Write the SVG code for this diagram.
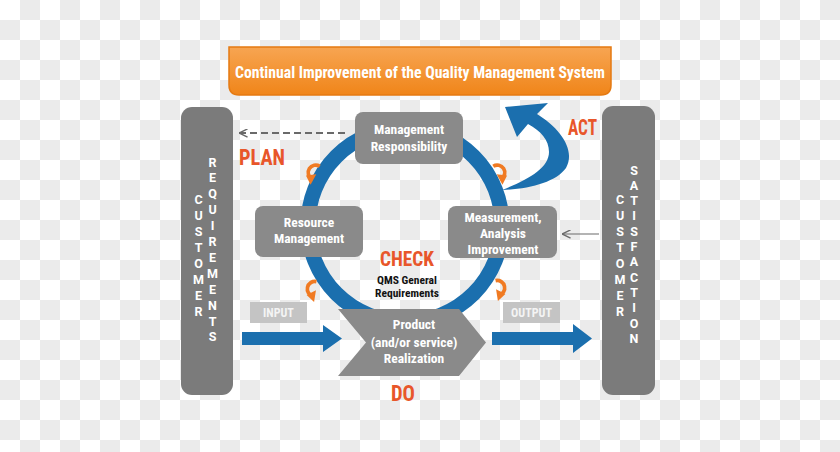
<svg xmlns="http://www.w3.org/2000/svg" width="840" height="452" viewBox="0 0 840 452">
<defs>
<pattern id="chk" width="40" height="40" patternUnits="userSpaceOnUse">
<rect width="40" height="40" fill="#ffffff"/>
<rect x="20" y="0" width="20" height="20" fill="#ebebeb"/>
<rect x="0" y="20" width="20" height="20" fill="#ebebeb"/>
</pattern>
<linearGradient id="og" x1="0" y1="0" x2="0" y2="1">
<stop offset="0" stop-color="#f7a552"/>
<stop offset="1" stop-color="#f08519"/>
</linearGradient>
<marker id="ah" viewBox="0 0 10 10" refX="9.5" refY="5" markerWidth="9" markerHeight="9" orient="auto" markerUnits="userSpaceOnUse">
<path d="M0,0.5 L9.5,5 L0,9.5" fill="none" stroke="#6a6a6a" stroke-width="1.6"/>
</marker>
<g id="curl">
<path d="M5,-5 A6,6 0 1 0 -2,6" fill="none" stroke="#f07a22" stroke-width="3.2"/>
<polygon points="-7,3 2,2 -3,11" fill="#f07a22"/>
</g>
</defs>
<style>
.t{font-family:"Liberation Sans Narrow","Roboto Condensed",Roboto,"Liberation Sans",sans-serif;font-weight:bold;fill:#fff;text-anchor:middle}
.box{fill:#8a8a8a}
.bar{fill:#7b7b7b}
.pd{font-family:"Liberation Sans Narrow","Roboto Condensed",Roboto,"Liberation Sans",sans-serif;font-weight:bold;fill:#e8562a;text-anchor:middle}
.vt{font-family:"Liberation Sans Narrow",Roboto,"Liberation Sans",sans-serif;font-weight:bold;fill:#fff;font-size:12.5px;text-anchor:middle}
.blue{fill:#1b6fae}
.lbl{fill:#c4c4c4}
</style>
<rect width="840" height="452" fill="url(#chk)"/>

<g id="banner">
<path d="M229,47 H611 V85 Q611,95 601,95 H239 Q229,95 229,85 Z" fill="url(#og)" stroke="#e57a12" stroke-width="1.5"/>
<text class="t" x="420" y="78" font-size="16.5" textLength="370" lengthAdjust="spacingAndGlyphs">Continual Improvement of the Quality Management System</text>
</g>

<g id="customer-requirements">
<rect class="bar" x="181" y="107" width="52" height="288" rx="11"/>
<text class="vt"><tspan x="198.5" y="203.5">C</tspan><tspan x="198.5" dy="16">U</tspan><tspan x="198.5" dy="16">S</tspan><tspan x="198.5" dy="16">T</tspan><tspan x="198.5" dy="16">O</tspan><tspan x="198.5" dy="16">M</tspan><tspan x="198.5" dy="16">E</tspan><tspan x="198.5" dy="16">R</tspan></text>
<text class="vt"><tspan x="212.5" y="166.5">R</tspan><tspan x="212.5" dy="15.9">E</tspan><tspan x="212.5" dy="15.9">Q</tspan><tspan x="212.5" dy="15.9">U</tspan><tspan x="212.5" dy="15.9">I</tspan><tspan x="212.5" dy="15.9">R</tspan><tspan x="212.5" dy="15.9">E</tspan><tspan x="212.5" dy="15.9">M</tspan><tspan x="212.5" dy="15.9">E</tspan><tspan x="212.5" dy="15.9">N</tspan><tspan x="212.5" dy="15.9">T</tspan><tspan x="212.5" dy="15.9">S</tspan></text>
</g>

<g id="customer-satisfaction">
<rect class="bar" x="602" y="106" width="53" height="289" rx="11"/>
<text class="vt"><tspan x="620" y="203.5">C</tspan><tspan x="620" dy="16">U</tspan><tspan x="620" dy="16">S</tspan><tspan x="620" dy="16">T</tspan><tspan x="620" dy="16">O</tspan><tspan x="620" dy="16">M</tspan><tspan x="620" dy="16">E</tspan><tspan x="620" dy="16">R</tspan></text>
<text class="vt"><tspan x="634" y="174.5">S</tspan><tspan x="634" dy="15.3">A</tspan><tspan x="634" dy="15.3">T</tspan><tspan x="634" dy="15.3">I</tspan><tspan x="634" dy="15.3">S</tspan><tspan x="634" dy="15.3">F</tspan><tspan x="634" dy="15.3">A</tspan><tspan x="634" dy="15.3">C</tspan><tspan x="634" dy="15.3">T</tspan><tspan x="634" dy="15.3">I</tspan><tspan x="634" dy="15.3">O</tspan><tspan x="634" dy="15.3">N</tspan></text>
</g>

<g id="connectors">
<circle cx="405" cy="225" r="97" fill="none" stroke="#1b6fae" stroke-width="15"/>
<path class="blue" d="M505,107 L548,103 L537,114 C560,128 576,150 566,168 C556,182 530,189 502,190 C528,180 549,168 549,152 C549,140 541,131 528,124 L517,137 Z"/>
<use href="#curl" transform="translate(314,172) scale(1.15)"/>
<use href="#curl" transform="translate(499,172) scale(-1.15,1.15)"/>
<use href="#curl" transform="translate(313,289) rotate(-20) scale(1.15)"/>
<use href="#curl" transform="translate(499,288) scale(-1.15,1.15) rotate(-20)"/>
<line x1="345" y1="133" x2="239" y2="133" stroke="#6a6a6a" stroke-width="1.8" stroke-dasharray="7,4" marker-end="url(#ah)"/>
<line x1="599" y1="234" x2="562" y2="234" stroke="#6a6a6a" stroke-width="1.2" marker-end="url(#ah)"/>
<polygon class="blue" points="242,332 323,332 323,325 342,338.5 323,352 323,345 242,345"/>
<polygon class="blue" points="492,332 573,332 573,324 592,338.5 573,353 573,345 492,345"/>
</g>

<g id="plan"><text class="pd" x="262" y="165" font-size="22" textLength="46" lengthAdjust="spacingAndGlyphs">PLAN</text></g>
<g id="act"><text class="pd" x="582.5" y="135" font-size="22" textLength="29" lengthAdjust="spacingAndGlyphs">ACT</text></g>
<g id="do"><text class="pd" x="403" y="401" font-size="22" textLength="24" lengthAdjust="spacingAndGlyphs">DO</text></g>

<g id="management-responsibility">
<rect class="box" x="355" y="112" width="108" height="52" rx="8"/>
<text class="t" x="409" y="134" font-size="13.5">Management</text>
<text class="t" x="409" y="150.5" font-size="13.5">Responsibility</text>
</g>

<g id="resource-management">
<rect class="box" x="255" y="206" width="108" height="51" rx="8"/>
<text class="t" x="309" y="226.5" font-size="13.5">Resource</text>
<text class="t" x="309" y="243" font-size="13.5">Management</text>
</g>

<g id="measurement">
<rect class="box" x="448" y="206" width="109" height="52" rx="8"/>
<text class="t" x="503" y="221.5" font-size="13.5">Measurement,</text>
<text class="t" x="503" y="237.5" font-size="13.5">Analysis</text>
<text class="t" x="503" y="253.5" font-size="13.5">Improvement</text>
</g>

<g id="check">
<text class="pd" x="407" y="266" font-size="21" textLength="54" lengthAdjust="spacingAndGlyphs">CHECK</text>
<text class="t" x="407" y="283.5" font-size="11.5" style="fill:#111">QMS General</text>
<text class="t" x="407" y="296.5" font-size="11.5" style="fill:#111">Requirements</text>
</g>

<g id="product">
<polygon class="box" points="338,309 459,309 486,342.5 459,376 338,376 366,342.5"/>
<text class="t" x="414" y="328.5" font-size="13.5">Product</text>
<text class="t" x="414" y="346.5" font-size="13.5">(and/or service)</text>
<text class="t" x="414" y="363" font-size="13.5">Realization</text>
</g>

<g id="input">
<rect class="lbl" x="250" y="302" width="57" height="21"/>
<text class="t" x="278.5" y="317" font-size="12" style="fill:#f4f4f4">INPUT</text>
</g>
<g id="output">
<rect class="lbl" x="503" y="302" width="57" height="21"/>
<text class="t" x="531.5" y="317" font-size="12" style="fill:#f4f4f4">OUTPUT</text>
</g>
</svg>
